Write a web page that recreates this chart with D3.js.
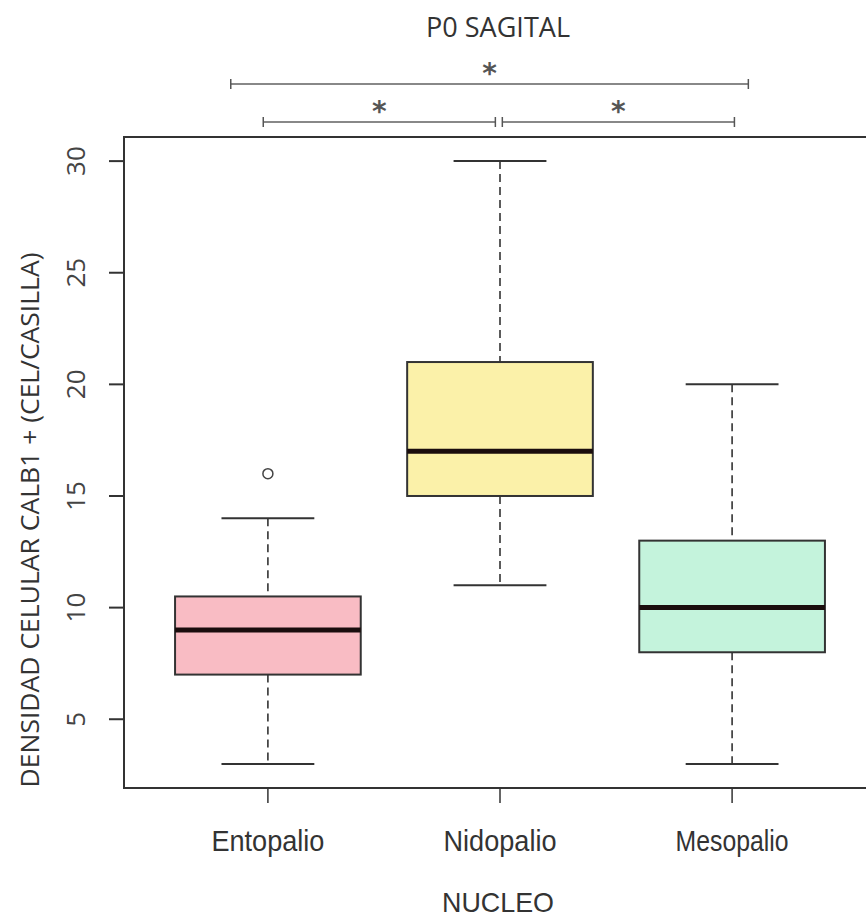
<!DOCTYPE html>
<html>
<head>
<meta charset="utf-8">
<script src="https://cdn.jsdelivr.net/npm/d3@7"></script>
<style>
  body { margin: 0; background: #fff; }
  svg { display: block; overflow: hidden; }
</style>
</head>
<body>
<div id="chart"></div>
<script>
// Box summary values
const groups = ["Entopalio", "Nidopalio", "Mesopalio"];
const whiskerLow = [3, 11, 3];
const q1 = [7, 15, 8];
const median = [9, 17, 10];
const q3 = [10.5, 21, 13];
const whiskerHigh = [14, 30, 20];
const outliers = [[16], [], []];
const fills = ["#f9bcc4", "#fbf1a9", "#c4f3dc"];
const yTicks = [5, 10, 15, 20, 25, 30];

// significance brackets (x in group units)
const compFrom = [0.84, 0.98, 2.01];
const compTo = [3.07, 1.98, 3.01];
const compLevel = [1, 0, 0];
const compLabel = ["*", "*", "*"];

const width = 866, height = 920;
const plot = { left: 124, right: 876, top: 137, bottom: 788 };

const svg = d3.select("#chart").append("svg")
    .attr("width", width)
    .attr("height", height);

const x = d3.scaleLinear().domain([0.38, 3.62]).range([plot.left, plot.right]);
const y = d3.scaleLinear().domain([1.92, 31.08]).range([plot.bottom, plot.top]);

const boxW = x(1.4) - x(1);   // half width of box (boxwex 0.8)
const capW = x(1.2) - x(1);   // half width of whisker cap

// Plot frame
svg.append("rect")
    .attr("x", plot.left).attr("y", plot.top)
    .attr("width", plot.right - plot.left).attr("height", plot.bottom - plot.top)
    .attr("fill", "none").attr("stroke", "#333").attr("stroke-width", 2);

// Y axis ticks
const yAxis = svg.append("g");
yAxis.selectAll("line").data(yTicks).enter().append("line")
    .attr("x1", plot.left - 15).attr("x2", plot.left)
    .attr("y1", d => y(d)).attr("y2", d => y(d))
    .attr("stroke", "#333").attr("stroke-width", 2);
yAxis.selectAll("text").data(yTicks).enter().append("text")
    .attr("transform", d => `translate(85,${y(d)}) rotate(-90)`)
    .attr("text-anchor", "middle")
    .attr("font-family", "Open Sans, sans-serif")
    .attr("font-size", 26)
    .attr("fill", "#444")
    .text(d => d);

// X axis ticks and labels
const xAxis = svg.append("g");
xAxis.selectAll("line").data(groups).enter().append("line")
    .attr("x1", (d, i) => x(i + 1)).attr("x2", (d, i) => x(i + 1))
    .attr("y1", plot.bottom).attr("y2", plot.bottom + 15)
    .attr("stroke", "#333").attr("stroke-width", 1.5);
xAxis.selectAll("text").data(groups).enter().append("text")
    .attr("x", (d, i) => x(i + 1))
    .attr("y", 851)
    .attr("text-anchor", "middle")
    .attr("font-family", "Liberation Sans, Arial, sans-serif")
    .attr("font-size", 29)
    .attr("fill", "#333")
    .attr("textLength", 113)
    .attr("lengthAdjust", "spacingAndGlyphs")
    .text(d => d);

// Boxes
const boxes = svg.selectAll(".box").data(groups).enter().append("g").attr("class", "box");

boxes.append("line")
    .attr("x1", (d, i) => x(i + 1)).attr("x2", (d, i) => x(i + 1))
    .attr("y1", (d, i) => y(whiskerHigh[i])).attr("y2", (d, i) => y(q3[i]))
    .attr("stroke", "#333").attr("stroke-width", 1.6).attr("stroke-dasharray", "8,5");
boxes.append("line")
    .attr("x1", (d, i) => x(i + 1)).attr("x2", (d, i) => x(i + 1))
    .attr("y1", (d, i) => y(q1[i])).attr("y2", (d, i) => y(whiskerLow[i]))
    .attr("stroke", "#333").attr("stroke-width", 1.6).attr("stroke-dasharray", "8,5");
boxes.append("line")
    .attr("x1", (d, i) => x(i + 1) - capW).attr("x2", (d, i) => x(i + 1) + capW)
    .attr("y1", (d, i) => y(whiskerHigh[i])).attr("y2", (d, i) => y(whiskerHigh[i]))
    .attr("stroke", "#333").attr("stroke-width", 2);
boxes.append("line")
    .attr("x1", (d, i) => x(i + 1) - capW).attr("x2", (d, i) => x(i + 1) + capW)
    .attr("y1", (d, i) => y(whiskerLow[i])).attr("y2", (d, i) => y(whiskerLow[i]))
    .attr("stroke", "#333").attr("stroke-width", 2);
boxes.append("rect")
    .attr("x", (d, i) => x(i + 1) - boxW)
    .attr("y", (d, i) => y(q3[i]))
    .attr("width", boxW * 2)
    .attr("height", (d, i) => y(q1[i]) - y(q3[i]))
    .attr("fill", (d, i) => fills[i])
    .attr("stroke", "#333").attr("stroke-width", 2);
boxes.append("line")
    .attr("x1", (d, i) => x(i + 1) - boxW).attr("x2", (d, i) => x(i + 1) + boxW)
    .attr("y1", (d, i) => y(median[i])).attr("y2", (d, i) => y(median[i]))
    .attr("stroke", "#1a0d0d").attr("stroke-width", 5);

// Outliers
groups.forEach((g, i) => {
    svg.selectAll(null).data(outliers[i]).enter().append("circle")
        .attr("cx", x(i + 1)).attr("cy", d => y(d)).attr("r", 5)
        .attr("fill", "none").attr("stroke", "#444").attr("stroke-width", 1.5);
});

// Significance brackets
const levelY = [122, 84];
const comps = svg.selectAll(".comp").data(compFrom).enter().append("g").attr("class", "comp");
comps.append("line")
    .attr("x1", (d, i) => x(compFrom[i])).attr("x2", (d, i) => x(compTo[i]))
    .attr("y1", (d, i) => levelY[compLevel[i]]).attr("y2", (d, i) => levelY[compLevel[i]])
    .attr("stroke", "#888").attr("stroke-width", 2);
comps.append("line")
    .attr("x1", (d, i) => x(compFrom[i])).attr("x2", (d, i) => x(compFrom[i]))
    .attr("y1", (d, i) => levelY[compLevel[i]] - 5).attr("y2", (d, i) => levelY[compLevel[i]] + 5)
    .attr("stroke", "#555").attr("stroke-width", 1.5);
comps.append("line")
    .attr("x1", (d, i) => x(compTo[i])).attr("x2", (d, i) => x(compTo[i]))
    .attr("y1", (d, i) => levelY[compLevel[i]] - 5).attr("y2", (d, i) => levelY[compLevel[i]] + 5)
    .attr("stroke", "#555").attr("stroke-width", 1.5);
comps.append("text")
    .attr("x", (d, i) => (x(compFrom[i]) + x(compTo[i])) / 2)
    .attr("y", (d, i) => levelY[compLevel[i]] - 1)
    .attr("text-anchor", "middle")
    .attr("font-family", "DejaVu Sans, sans-serif")
    .attr("font-size", 28)
    .attr("font-weight", "bold")
    .attr("fill", "#555")
    .text((d, i) => compLabel[i]);

// Titles
svg.append("text")
    .attr("x", 498).attr("y", 37)
    .attr("text-anchor", "middle")
    .attr("font-family", "Open Sans, sans-serif")
    .attr("font-size", 27)
    .attr("fill", "#333")
    .attr("textLength", 144)
    .attr("lengthAdjust", "spacingAndGlyphs")
    .text("P0 SAGITAL");

svg.append("text")
    .attr("x", 498).attr("y", 912)
    .attr("text-anchor", "middle")
    .attr("font-family", "Liberation Sans, Arial, sans-serif")
    .attr("font-size", 28)
    .attr("fill", "#333")
    .attr("textLength", 112)
    .attr("lengthAdjust", "spacingAndGlyphs")
    .text("NUCLEO");

svg.append("text")
    .attr("transform", "translate(39,520) rotate(-90)")
    .attr("text-anchor", "middle")
    .attr("font-family", "Open Sans, sans-serif")
    .attr("font-size", 25)
    .attr("fill", "#333")
    .attr("textLength", 535)
    .attr("lengthAdjust", "spacingAndGlyphs")
    .text("DENSIDAD CELULAR CALB1 + (CEL/CASILLA)");
</script>
</body>
</html>
